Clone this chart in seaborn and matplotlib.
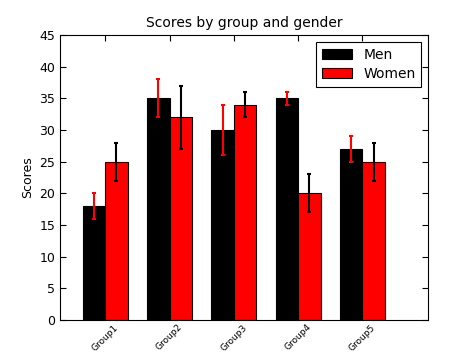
import pandas as pd
import matplotlib
matplotlib.use('Agg')
import matplotlib.pyplot as plt
import seaborn as sns
import numpy as np

# Data
groups = ['Group1', 'Group2', 'Group3', 'Group4', 'Group5']
men_means = [18, 35, 30, 35, 27]
men_std = [2, 3, 4, 1, 2]
women_means = [25, 32, 34, 20, 25]
women_std = [3, 5, 2, 3, 3]

df = pd.DataFrame({
    'Group': groups * 2,
    'Score': men_means + women_means,
    'Gender': ['Men'] * 5 + ['Women'] * 5,
})

sns.set_theme(style='white')
plt.rcParams['font.family'] = ['DejaVu Sans']
plt.rcParams['text.color'] = 'black'
plt.rcParams['axes.labelcolor'] = 'black'
plt.rcParams['xtick.color'] = 'black'
plt.rcParams['ytick.color'] = 'black'

fig = plt.figure(figsize=(4.74, 3.55), dpi=100)
ax = fig.add_axes([0.127, 0.099, 0.776, 0.802])

sns.barplot(data=df, x='Group', y='Score', hue='Gender', order=groups,
            palette={'Men': 'black', 'Women': 'red'}, width=0.7,
            errorbar=None, edgecolor='black', linewidth=0.8,
            saturation=1, ax=ax)

# error bars on top of the bars (men in red, women in black)
n = len(groups)
bars = ax.patches[:2 * n]
men_x = [b.get_x() + b.get_width() / 2 for b in bars[:n]]
women_x = [b.get_x() + b.get_width() / 2 for b in bars[n:2 * n]]
ax.errorbar(men_x, men_means, yerr=men_std, fmt='none', ecolor='red',
            elinewidth=1.5, capsize=1.5, capthick=1.5)
ax.errorbar(women_x, women_means, yerr=women_std, fmt='none', ecolor='black',
            elinewidth=1.5, capsize=1.5, capthick=1.5)

ax.set_xlim(-0.7, 5.02)
ax.set_ylim(0, 45)
ax.set_yticks(np.arange(0, 46, 5))
ax.set_title('Scores by group and gender', fontsize=10, color='black')
ax.set_ylabel('Scores', fontsize=9)
ax.set_xlabel('')
ax.set_xticks(range(n))
ax.set_xticklabels(groups, rotation=45, fontsize=6.5)
ax.tick_params(axis='y', labelsize=9)
ax.tick_params(axis='x', pad=2)
ax.tick_params(direction='in', length=4, width=0.8, top=True, right=True,
               bottom=True, left=True, color='black')
for s in ax.spines.values():
    s.set_color('black')
    s.set_linewidth(0.8)

leg = ax.legend(loc='upper right', fontsize=10, fancybox=False,
                edgecolor='black', framealpha=1, handlelength=2.2,
                borderpad=0.4, labelspacing=0.4)
leg.get_frame().set_linewidth(0.8)
for t in leg.get_texts():
    t.set_color('black')

plt.savefig('out.png', dpi=100)
